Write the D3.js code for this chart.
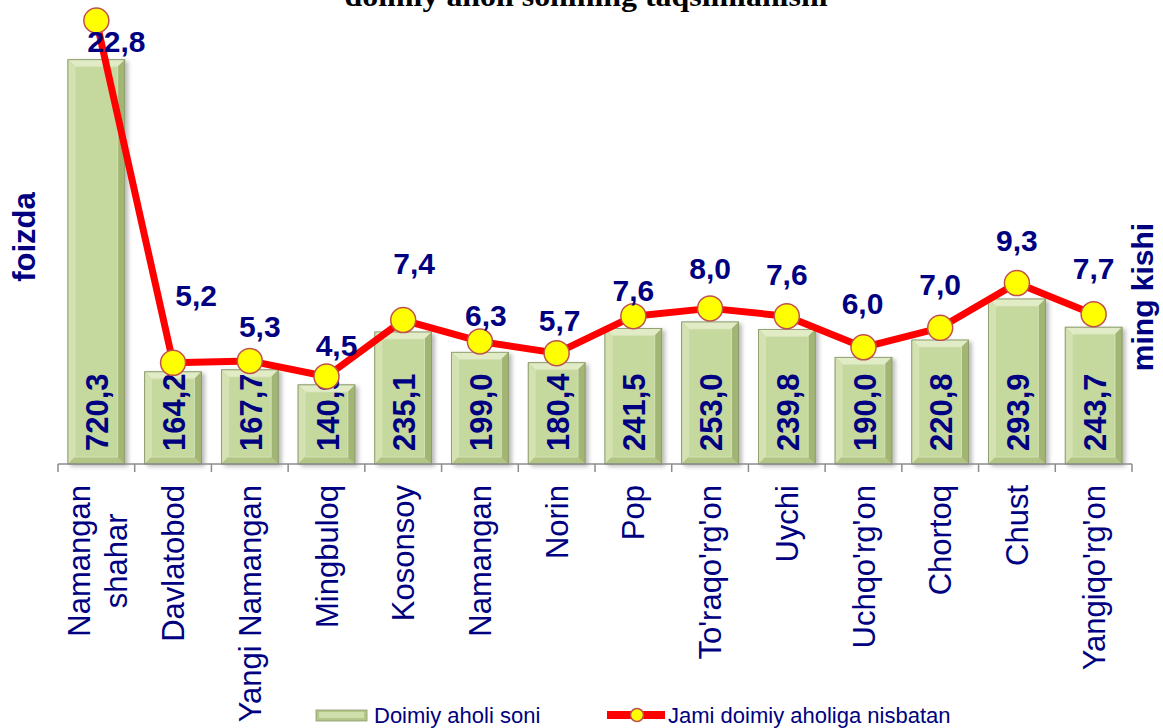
<!DOCTYPE html>
<html>
<head>
<meta charset="utf-8">
<script src="https://cdn.jsdelivr.net/npm/d3@7"></script>
<style>
  html, body { margin: 0; padding: 0; background: #fff; }
  svg { display: block; font-family: "Liberation Sans", Arial, sans-serif; }
</style>
</head>
<body>
<svg id="chart" width="1163" height="728"></svg>
<script>
// Districts of the region (x categories), labels may wrap
const districts = [
  ['Namangan', 'shahar'], ['Davlatobod'], ['Yangi Namangan'], ['Mingbuloq'],
  ['Kosonsoy'], ['Namangan'], ['Norin'], ['Pop'], ["To'raqo'rg'on"], ['Uychi'],
  ["Uchqo'rg'on"], ['Chortoq'], ['Chust'], ["Yangiqo'rg'on"],
];
// Doimiy aholi soni, ming kishi
const population = [720.3, 164.2, 167.7, 140.9, 235.1, 199.0, 180.4, 241.5, 253.0, 239.8, 190.0, 220.8, 293.9, 243.7];
// Jami doimiy aholiga nisbatan, foizda
const share = [22.8, 5.2, 5.3, 4.5, 7.4, 6.3, 5.7, 7.6, 8.0, 7.6, 6.0, 7.0, 9.3, 7.7];
// where each percentage label sits relative to its marker
const labelShiftX = [20, 23, 10, 10, 11, 6, 3, 0, 0, 0, -1, 0, 0, 0];
const labelShiftY = [21, -67, -34, -31, -57, -26, -33, -26, -40, -42, -44, -43, -43, -46];

const seriesNames = ['Doimiy aholi soni', 'Jami doimiy aholiga nisbatan'];
const titleText = 'doimiy aholi sonining taqsimlanishi';

const navy = '#000080';
const svg = d3.select('#chart');

const baseY = 464;
const x = d3.scaleBand().domain(d3.range(districts.length)).range([58, 1132]);
const yBar = d3.scaleLinear().domain([0, 800]).range([baseY, 15]);
const yLine = d3.scaleLinear().domain([0, 22.8]).range([baseY, 20.5]);

const barW = x.bandwidth() * 0.74;
const cx = i => x(i) + x.bandwidth() / 2;

// soft shadow for bars
const defs = svg.append('defs');
const shadow = defs.append('filter').attr('id', 'shadow')
  .attr('x', '-20%').attr('y', '-10%').attr('width', '150%').attr('height', '130%');
shadow.append('feDropShadow').attr('dx', 3).attr('dy', 2)
  .attr('stdDeviation', 2).attr('flood-color', '#000').attr('flood-opacity', 0.28);

// Title (only its lower part shows in the frame)
svg.append('text')
  .attr('x', 586).attr('y', 6)
  .attr('text-anchor', 'middle')
  .attr('textLength', 483).attr('lengthAdjust', 'spacingAndGlyphs')
  .style('font-family', '"Liberation Serif", "Times New Roman", serif')
  .style('font-weight', 'bold')
  .style('font-size', '30px')
  .attr('fill', '#000')
  .text(titleText);

// Draws one bevelled bar
const bevelBar = (g, x0, y0, w, h) => {
  const b = Math.min(7, h / 3);
  g.append('rect').attr('x', x0).attr('y', y0).attr('width', w).attr('height', h)
    .attr('fill', '#a9bd7e').attr('stroke', '#8b9a6a').attr('stroke-width', 0.8)
    .attr('filter', 'url(#shadow)');
  const poly = (pts, fill) => g.append('polygon')
    .attr('points', pts.map(p => p.join(',')).join(' ')).attr('fill', fill);
  poly([[x0, y0], [x0 + w, y0], [x0 + w - b, y0 + b], [x0 + b, y0 + b]], '#e1ecc6');
  poly([[x0, y0], [x0 + b, y0 + b], [x0 + b, y0 + h - b], [x0, y0 + h]], '#d3e2b0');
  poly([[x0 + w, y0], [x0 + w, y0 + h], [x0 + w - b, y0 + h - b], [x0 + w - b, y0 + b]], '#a2b574');
  poly([[x0, y0 + h], [x0 + w, y0 + h], [x0 + w - b, y0 + h - b], [x0 + b, y0 + h - b]], '#b2c585');
  g.append('rect').attr('x', x0 + b).attr('y', y0 + b)
    .attr('width', Math.max(0, w - 2 * b)).attr('height', Math.max(0, h - 2 * b))
    .attr('fill', '#c5d89e').attr('stroke', '#d9e6bb').attr('stroke-width', 0.8);
  g.append('rect').attr('x', x0).attr('y', y0).attr('width', w).attr('height', h)
    .attr('fill', 'none').attr('stroke', '#8b9a6a').attr('stroke-width', 0.8);
};

// Bars
const bars = svg.append('g');
population.forEach((v, i) => {
  const g = bars.append('g');
  bevelBar(g, cx(i) - barW / 2, yBar(v), barW, baseY - yBar(v));
});

// Axis line and ticks at category boundaries
const axis = svg.append('g').attr('stroke', '#8c8c8c').attr('stroke-width', 1.5);
axis.append('line').attr('x1', 58).attr('x2', 1132).attr('y1', baseY).attr('y2', baseY);
d3.range(districts.length + 1).forEach((i) => {
  const tx = i < districts.length ? x(i) : x.range()[1];
  axis.append('line').attr('x1', tx).attr('x2', tx).attr('y1', baseY).attr('y2', baseY + 8);
});

// Bar value labels
population.forEach((v, i) => {
  svg.append('text')
    .attr('transform', `translate(${cx(i) + 12},451) rotate(-90)`)
    .attr('text-anchor', 'start')
    .style('font-weight', 'bold').style('font-size', '31px')
    .attr('fill', navy)
    .text(v.toFixed(1).replace('.', ','));
});

// Share line with markers
const line = d3.line().x((d, i) => cx(i)).y(d => yLine(d));
svg.append('path').datum(share).attr('d', line)
  .attr('fill', 'none').attr('stroke', '#ff0000').attr('stroke-width', 7)
  .attr('stroke-linejoin', 'round');
svg.selectAll('.marker').data(share).join('circle')
  .attr('class', 'marker')
  .attr('cx', (d, i) => cx(i)).attr('cy', d => yLine(d)).attr('r', 12.5)
  .attr('fill', '#ffff00').attr('stroke', '#c0504d').attr('stroke-width', 1.5);

// Share labels
share.forEach((v, i) => {
  svg.append('text')
    .attr('x', cx(i) + labelShiftX[i]).attr('y', yLine(v) + labelShiftY[i])
    .attr('text-anchor', 'middle').attr('dominant-baseline', 'central')
    .style('font-weight', 'bold').style('font-size', '30px')
    .attr('fill', navy)
    .text(v.toFixed(1).replace('.', ','));
});

// Category labels, rotated
districts.forEach((lines, i) => {
  const g = svg.append('g');
  if (lines.length === 1) {
    g.append('text')
      .attr('transform', `translate(${cx(i) + 11},485) rotate(-90)`)
      .attr('text-anchor', 'end')
      .style('font-size', '31px').attr('fill', navy)
      .text(lines[0]);
  } else {
    const texts = lines.map(t => g.append('text')
      .attr('text-anchor', 'middle')
      .style('font-size', '31px').attr('fill', navy)
      .text(t));
    const maxLen = d3.max(texts, t => t.node().getComputedTextLength());
    texts.forEach((t, k) => {
      t.attr('transform', `translate(${cx(i) - 6 + k * 37},${485 + maxLen / 2}) rotate(-90)`);
    });
  }
});

// Axis titles
svg.append('text')
  .attr('transform', 'translate(35,237) rotate(-90)')
  .attr('text-anchor', 'middle')
  .style('font-weight', 'bold').style('font-size', '31px')
  .attr('fill', navy).text('foizda');
svg.append('text')
  .attr('transform', 'translate(1153,297) rotate(-90)')
  .attr('text-anchor', 'middle')
  .style('font-weight', 'bold').style('font-size', '30px')
  .attr('fill', navy).text('ming kishi');

// Legend
const legend = svg.append('g');
const sw = legend.append('g');
sw.append('rect').attr('x', 316).attr('y', 710).attr('width', 51).attr('height', 11)
  .attr('fill', '#b4c78a').attr('stroke', '#8b9a6a').attr('stroke-width', 0.8);
sw.append('rect').attr('x', 319).attr('y', 712).attr('width', 45).attr('height', 6)
  .attr('fill', '#cfdfac');
legend.append('text').attr('x', 374).attr('y', 723)
  .style('font-size', '22px').attr('fill', navy).text(seriesNames[0]);

legend.append('line').attr('x1', 607).attr('x2', 665).attr('y1', 715).attr('y2', 715)
  .attr('stroke', '#ff0000').attr('stroke-width', 8);
legend.append('circle').attr('cx', 637).attr('cy', 715).attr('r', 6.5)
  .attr('fill', '#ffff00').attr('stroke', '#c0504d').attr('stroke-width', 1.5);
legend.append('text').attr('x', 668).attr('y', 723)
  .style('font-size', '22px').attr('fill', navy).text(seriesNames[1]);
</script>
</body>
</html>
